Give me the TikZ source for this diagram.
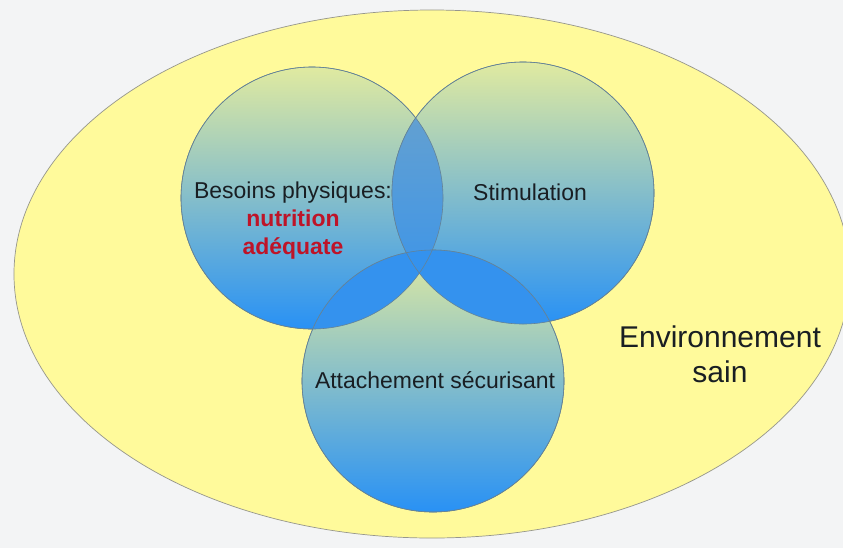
\documentclass[tikz,border=0pt]{standalone}
\usepackage{fontspec}
\setmainfont{Liberation Sans}
\definecolor{backdrop}{RGB}{243,244,245}
\definecolor{sainwash}{RGB}{255,250,155}
\definecolor{sainrim}{RGB}{150,150,140}
\definecolor{vennrim}{RGB}{100,130,150}
\definecolor{venntop}{RGB}{224,234,160}
\definecolor{vennmid}{RGB}{128,182,205}
\definecolor{vennbase}{RGB}{40,145,245}
\definecolor{lenstop}{RGB}{105,162,205}
\definecolor{lensbase}{RGB}{52,146,238}
\definecolor{inkdark}{RGB}{25,30,35}
\definecolor{nutri}{RGB}{190,20,40}

\begin{document}
\begin{tikzpicture}[x=0.03cm, y=-0.03cm,
		venn/.style={circle, minimum size=7.86cm, inner sep=0pt, draw=vennrim,
			line width=0.5pt, top color=venntop, middle color=vennmid, bottom color=vennbase},
		rim/.style={draw=vennrim, line width=0.5pt},
		lbl/.style={font=\fontsize{19.6}{23.9}\selectfont, text=inkdark, align=center, inner sep=0pt}]
		\fill[backdrop] (0,0) rectangle (843,548);
		\useasboundingbox (0,0) rectangle (843,548);
		\clip (0,0) rectangle (843,548);
		\draw[fill=sainwash, draw=sainrim, line width=0.6pt] (432,274)
			ellipse [x radius=12.54cm, y radius=7.92cm];
		\node[venn] (phys) at (312,198) {};
		\node[venn] (stim) at (523,193) {};
		\node[venn] (attach) at (433,381) {};
		% overlaps
		\begin{scope}
			\clip (phys.center) circle [radius=3.93cm];
			\clip (stim.center) circle [radius=3.93cm];
			\shade[top color=lenstop, bottom color=lensbase] (380,88) rectangle (460,322);
		\end{scope}
		\foreach \a/\b in {phys/attach, stim/attach} {
			\begin{scope}
				\clip (\a.center) circle [radius=3.93cm];
				\clip (\b.center) circle [radius=3.93cm];
				\fill[lensbase] (290,240) rectangle (580,340);
			\end{scope}
		}
		\foreach \v in {phys, stim, attach}
			\draw[rim] (\v.center) circle [radius=3.93cm];
		\node[lbl] (physlbl) at (293,221)
			{Besoins physiques:\\{\color{nutri}\bfseries nutrition}\\{\color{nutri}\bfseries adéquate}};
		\node[lbl] (stimlbl) at (530,192) {Stimulation};
		\node[lbl] (attachlbl) at (435,380) {Attachement sécurisant};
		\node[lbl, font=\fontsize{25.6}{29.9}\selectfont] (sain) at (720,354) {Environnement\\sain};
	\end{tikzpicture}
\end{document}
